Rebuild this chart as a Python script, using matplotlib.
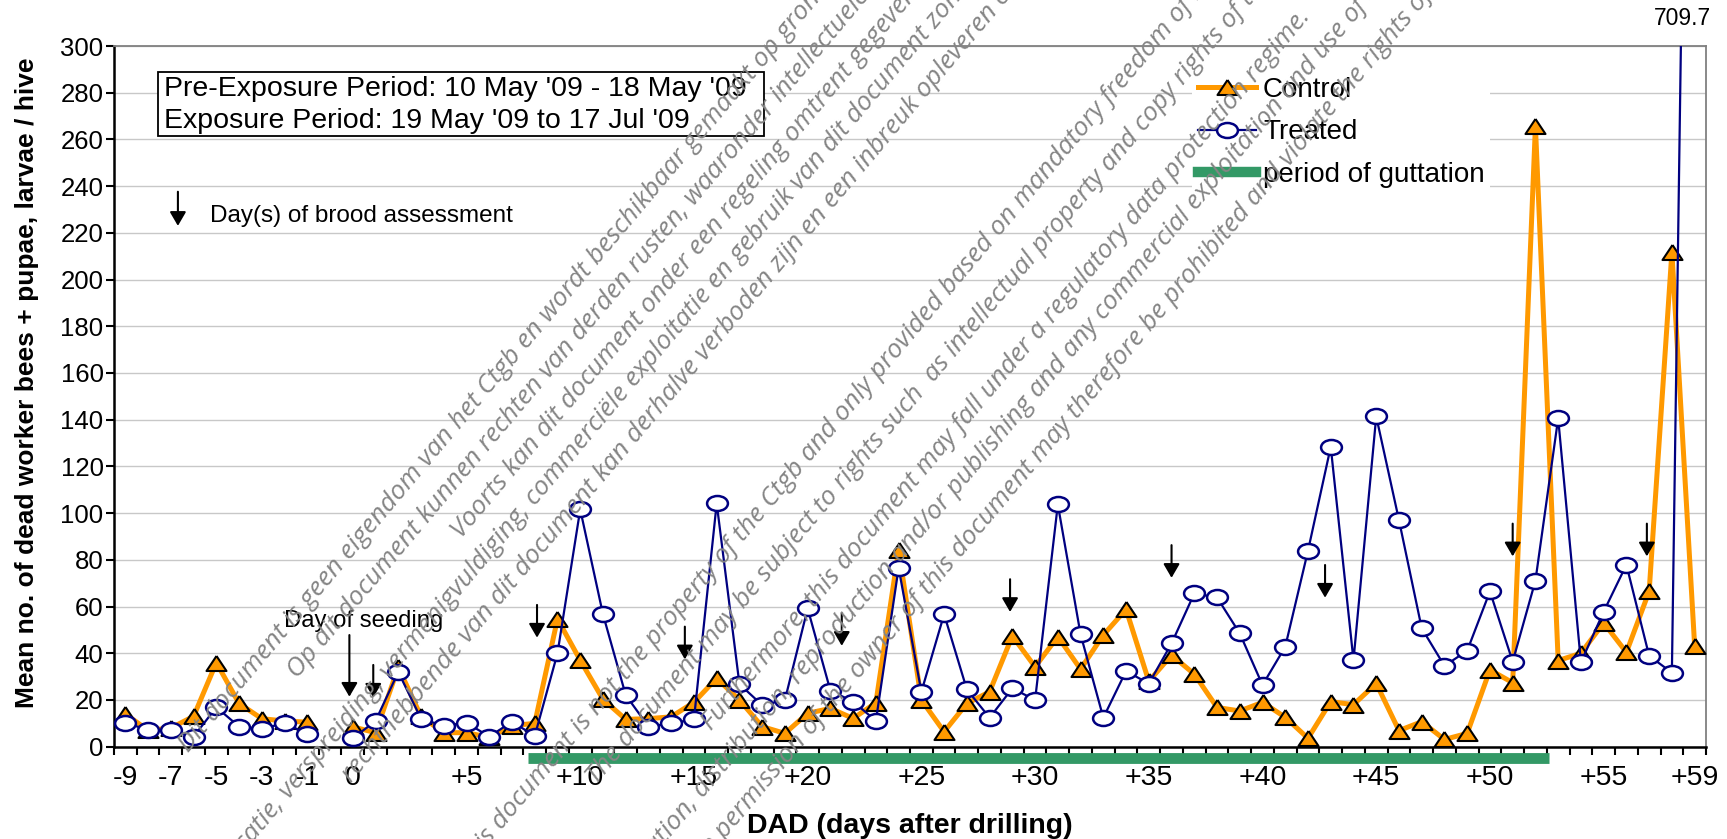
import numpy as np
import matplotlib.pyplot as plt
import matplotlib.patches as mpatches
from matplotlib.lines import Line2D
from matplotlib.path import Path
from matplotlib.transforms import Affine2D

plt.rcParams['font.family'] = ['Liberation Sans', 'DejaVu Sans']

# --- data ---
# days -9..-1, one empty slot, then 0..+59
days = list(range(-9, 0)) + [None] + list(range(0, 60))

control = [14, 7, 8, 13, 36, 18.5, 12, 11, 10.5, np.nan,
           8.5, 6, 34, 13, 6, 6, 4, 9, 10, 54.7,
           37, 20.3, 11.7, 12, 12.8, 19, 29.3, 20, 8.6, 5.7,
           14.3, 16.4, 12.1, 18.8, 84.2, 20, 6.4, 18.5, 23.5, 47.4,
           34.2, 47.1, 33.2, 47.8, 58.8, 28, 39.2, 31.1, 16.8, 15.3,
           19, 12.6, 3.6, 19.3, 18, 27.1, 6.9, 10.7, 3.1, 5.7,
           32.9, 27.4, 265.7, 36.9, 40, 53, 40.4, 66.5, 211.7, 43.3]

treated = [10.3, 7.1, 7.1, 4.3, 16.9, 8.6, 7.4, 10.3, 5.3, np.nan,
           3.6, 11, 32, 12, 8.9, 10.3, 4.3, 10.7, 4.6, 40,
           101.6, 56.7, 22.1, 8.6, 10, 11.7, 104.2, 26.8, 17.8, 20,
           59.2, 24, 19.3, 11.1, 76.6, 23.5, 56.7, 24.5, 12.4, 25,
           20, 103.7, 48.1, 12.4, 32.4, 27, 44.2, 65.6, 63.9, 48.5,
           26.4, 42.8, 83.9, 128.4, 37, 141.4, 97, 50.7, 34.6, 41.1,
           66.5, 36.4, 71.1, 140.6, 36.1, 57.8, 77.9, 38.9, 31.7, 709.7]

tick_days = [-9, -7, -5, -3, -1, 0, 5, 10, 15, 20, 25, 30, 35, 40, 45, 50, 55, 59]
tick_labels = ['-9', '-7', '-5', '-3', '-1', '0', '+5', '+10', '+15', '+20',
               '+25', '+30', '+35', '+40', '+45', '+50', '+55', '+59']

# brood assessment arrows: day, arrow top (y)
brood_days = [0.9, 8.1, 14.6, 21.5, 28.9, 36, 42.75, 51, 56.9]
brood_top = [35, 60.7, 51.4, 57.2, 71.7, 86.3, 77.8, 95.5, 95.5]
seeding_day = 0
guttation = (7.7, 52.6)   # days


def pos(d):
    return d + 9 if d < 0 else d + 10


x = np.arange(len(days))
W, H = 1727, 839

orange = '#FF9900'
navy = '#000080'
green = '#339966'

tri = Path([(0, 0.75), (-1, -0.75), (1, -0.75), (0, 0.75)])
ell = Path.unit_circle().transformed(Affine2D().scale(1, 0.72))

fig = plt.figure(figsize=(W / 100, H / 100), dpi=100)
ax = fig.add_axes([114 / W, (H - 746.7) / H, 1592 / W, 700.7 / H])

ax.plot(x, control, color=orange, lw=3.6, marker=tri, ms=14.4,
        mfc=orange, mec='black', mew=1.5, zorder=3)
ax.plot(x, treated, color=navy, lw=1.6, marker=ell, ms=15,
        mfc='white', mec=navy, mew=1.8, zorder=4)

ax.set_xlim(-0.5, len(days) - 0.5)
ax.set_ylim(0, 300)
ax.set_yticks(range(0, 301, 20))
ax.grid(axis='y', color='#c8c8c8', lw=1)
ax.set_axisbelow(True)

ax.set_xticks([pos(d) for d in tick_days])
ax.set_xticklabels(tick_labels)
ax.set_xticks(np.arange(-0.5, len(days)), minor=True)
ax.tick_params(axis='x', which='major', length=0, pad=13, labelsize=20.5)
ax.tick_params(axis='x', which='minor', length=6, width=1.5, direction='out')
ax.tick_params(axis='y', length=5.5, width=1.5, direction='out', pad=2, labelsize=18.5)

for side in ['left', 'bottom']:
    ax.spines[side].set_linewidth(1.8)
for side in ['top', 'right']:
    ax.spines[side].set_color('#808080')
    ax.spines[side].set_linewidth(1.3)

# guttation bar below the axis
ax.plot([pos(guttation[0]), pos(guttation[1])], [-5, -5], color=green, lw=7.8,
        solid_capstyle='butt', clip_on=False, zorder=5)

arrow_kw = dict(arrowstyle='-|>,head_length=0.6,head_width=0.35', mutation_scale=14,
                lw=1.5, color='black', shrinkA=0, shrinkB=0)
for d, top in zip(brood_days, brood_top):
    ax.annotate('', xy=(pos(d), top - 14), xytext=(pos(d), top), arrowprops=arrow_kw)
sx = pos(seeding_day) - 0.15
ax.annotate('', xy=(sx, 21.4), xytext=(sx, 47.8), arrowprops=arrow_kw)
ax.text(sx + 0.62, 53.8, 'Day of seeding', fontsize=17.2, ha='center', va='center')

# arrow key
ax.annotate('', xy=(2.31, 223), xytext=(2.31, 237.6), arrowprops=arrow_kw)
ax.text(3.74, 227.2, 'Day(s) of brood assessment', fontsize=17.5, va='center')

ax.text(len(days) - 1.53, 311.8, '709.7', fontsize=16.5, ha='center', va='center',
        clip_on=False)

h_ctrl = Line2D([], [], color=orange, lw=3.6, marker=tri, ms=14.4,
                mfc=orange, mec='black', mew=1.5)
h_trt = Line2D([], [], color=navy, lw=1.6, marker=ell, ms=15,
               mfc='white', mec=navy, mew=1.8)
h_gut = Line2D([], [], color=green, lw=7.5)
ax.legend([h_ctrl, h_trt, h_gut], ['Control', 'Treated', 'period of guttation'],
          loc='upper left', bbox_to_anchor=(0.6774, 0.9642), borderaxespad=0,
          borderpad=0.2, fancybox=False, edgecolor='none', facecolor='white',
          framealpha=1, fontsize=20, handlelength=2.09, handletextpad=0.25,
          labelspacing=0.6)

# period text box
fig.patches.append(mpatches.Rectangle((158 / W, 1 - 136 / H), 606 / W, 64 / H,
                                      transform=fig.transFigure, fc='white',
                                      ec='black', lw=1.3))
fig.text(164 / W, 1 - 89.5 / H, "Pre-Exposure Period: 10 May '09 - 18 May '09",
         fontsize=20.5, va='center')
fig.text(164 / W, 1 - 121 / H, "Exposure Period: 19 May '09 to 17 Jul '09",
         fontsize=20.5, va='center')

fig.text(27 / W, 1 - 383 / H, 'Mean no. of dead worker bees + pupae, larvae / hive',
         rotation=90, fontsize=19, fontweight='bold', ha='center', va='center')
fig.text(910 / W, 1 - 826 / H, 'DAD (days after drilling)', fontsize=20.5,
         fontweight='bold', ha='center', va='center')

# diagonal watermark (along, across offsets in pixels)
watermark = [
    (-456, 628, "Dit document is geen eigendom van het Ctgb en wordt beschikbaar gemaakt op grond van de Wet openbaarheid van bestuur."),
    (-329, 664, "Op dit document kunnen rechten van derden rusten, waaronder intellectuele eigendomsrechten en auteursrechten."),
    (-116, 700, "Voorts kan dit document onder een regeling omtrent gegevensbescherming vallen."),
    (-554, 736, "Publicatie, verspreiding, vermenigvuldiging, commerciële exploitatie en gebruik van dit document zonder toestemming van de"),
    (-374, 772, "rechthebbende van dit document kan derhalve verboden zijn en een inbreuk opleveren op de rechten van de rechthebbende."),
    (-367, 918, "This document is not the property of the Ctgb and only provided based on mandatory freedom of information legislation."),
    (-218, 962, "The document may be subject to rights such  as intellectual property and copy rights of third parties."),
    (-103, 1015, "Furthermore, this document may fall under a regulatory data protection regime."),
    (-524, 1052, "Consequently, any publication, distribution, reproduction and/or publishing and any commercial exploitation and use of this document"),
    (-316, 1095, "without the permission of the owner of this document may therefore be prohibited and violate the rights of its owner."),
]
ang = np.radians(50)
for s, d, line in watermark:
    px = s * np.cos(ang) + d * np.sin(ang)
    py = -s * np.sin(ang) + d * np.cos(ang)
    fig.text(px / W, 1 - py / H, line, rotation=50, rotation_mode='anchor',
             ha='left', va='baseline', fontsize=19, style='italic',
             family='Open Sans', color='#858585', zorder=6)

fig.savefig('out.png', dpi=100)
